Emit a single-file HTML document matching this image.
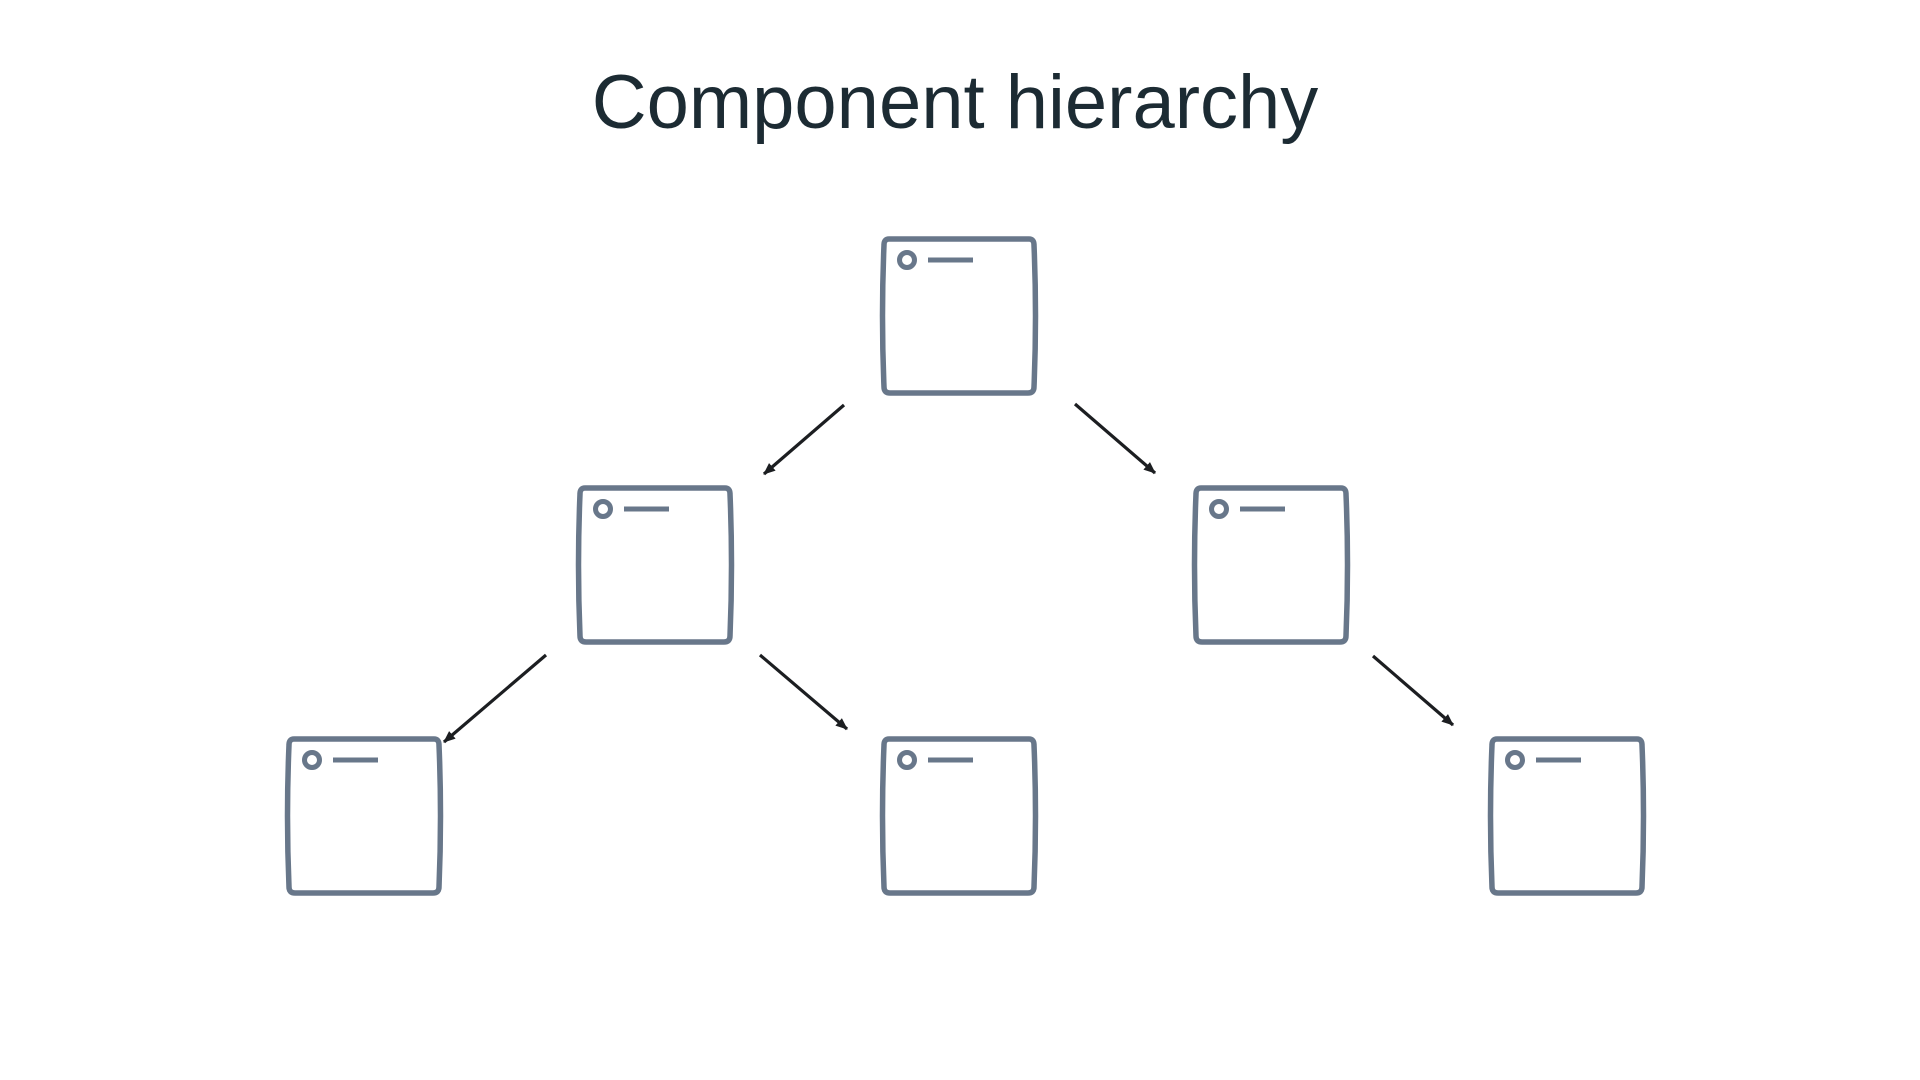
<!DOCTYPE html>
<html><head><meta charset="utf-8"><style>
html,body{margin:0;padding:0;background:#fff;width:1920px;height:1080px;overflow:hidden}
</style></head><body>
<svg width="1920" height="1080" viewBox="0 0 1920 1080" xmlns="http://www.w3.org/2000/svg">
<defs>
<marker id="ah" markerWidth="14" markerHeight="14" refX="11" refY="6" orient="auto" markerUnits="userSpaceOnUse">
<path d="M0,1 L12,6 L0,11 Z" fill="#1c1e21"/>
</marker>
<g id="box">
<path d="M6,0 L146,0 Q151,0 151,6 Q154,77 151,148 Q151,154 145,154 L7,154 Q1,154 1,148 Q-2,77 1,6 Q1,0 6,0 Z" fill="none" stroke="#68778a" stroke-width="5.5"/>
<circle cx="24" cy="21" r="7.5" fill="none" stroke="#68778a" stroke-width="5"/>
<line x1="45" y1="21" x2="90" y2="21" stroke="#68778a" stroke-width="5"/>
</g>
</defs>
<text x="955" y="128" text-anchor="middle" font-family="Liberation Sans, sans-serif" font-size="76" fill="#1c2b33">Component hierarchy</text>
<use href="#box" x="883" y="239"/>
<use href="#box" x="579" y="488"/>
<use href="#box" x="1195" y="488"/>
<use href="#box" x="288" y="739"/>
<use href="#box" x="883" y="739"/>
<use href="#box" x="1491" y="739"/>
<g stroke="#1c1e21" stroke-width="3.2" marker-end="url(#ah)">
<line x1="844" y1="405" x2="764" y2="474"/>
<line x1="1075" y1="404" x2="1155" y2="473"/>
<line x1="546" y1="655" x2="444" y2="742"/>
<line x1="760" y1="655" x2="847" y2="729"/>
<line x1="1373" y1="656" x2="1453" y2="725"/>
</g>
</svg>
</body></html>
